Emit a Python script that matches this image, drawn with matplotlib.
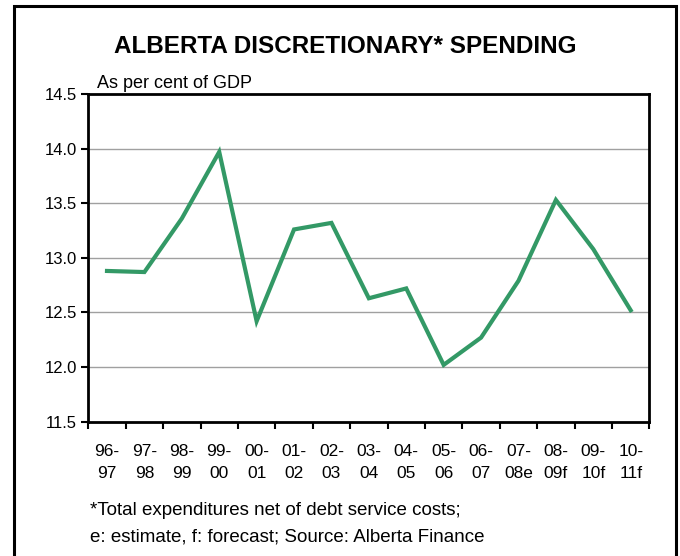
import matplotlib
matplotlib.use("Agg")
import matplotlib.pyplot as plt
from matplotlib.lines import Line2D
import numpy as np

plt.rcParams['font.family'] = ['Liberation Sans', 'DejaVu Sans']

categories = ["96-\n97", "97-\n98", "98-\n99", "99-\n00", "00-\n01", "01-\n02", "02-\n03",
              "03-\n04", "04-\n05", "05-\n06", "06-\n07", "07-\n08e", "08-\n09f", "09-\n10f", "10-\n11f"]
values = [12.88, 12.87, 13.36, 13.97, 12.42, 13.26, 13.32, 12.63, 12.72, 12.02,
          12.27, 12.79, 13.53, 13.08, 12.52]
yticks = [11.5, 12.0, 12.5, 13.0, 13.5, 14.0, 14.5]

W, H = 680, 556
fig = plt.figure(figsize=(W / 100, H / 100), dpi=100)

# outer border (top, left, right)
lx, rx, ty = 13.5 / W, 676 / W, 1 - 6 / H
fig.add_artist(Line2D([lx, lx, rx, rx], [0, ty, ty, 0], transform=fig.transFigure,
                      color='black', lw=2.2, solid_joinstyle='miter'))

ax = fig.add_axes([88.3 / W, 1 - 421.7 / H, (649.4 - 88.3) / W, (421.7 - 94) / H])
x = np.arange(len(values))
ax.plot(x, values, color='#339966', lw=3.0, solid_joinstyle='miter', zorder=3)
ax.set_xlim(-0.5, len(values) - 0.5)
ax.set_ylim(11.5, 14.5)

ax.set_yticks(yticks)
ax.set_yticklabels([f"{v:.1f}" for v in yticks], fontsize=12)
for v in yticks[1:-1]:
    ax.axhline(v, color='#a0a0a0', lw=1, zorder=1)

ax.set_xticks(x)
ax.set_xticklabels(categories, fontsize=12.5, linespacing=1.55)
ax.tick_params(axis='x', which='major', length=0, pad=16)
ax.set_xticks(np.arange(-0.5, len(values)), minor=True)
ax.tick_params(axis='x', which='minor', length=5, width=1.5, direction='out')
ax.tick_params(axis='y', length=5, width=1.5, direction='out', pad=3)

for s in ax.spines.values():
    s.set_linewidth(2)
    s.set_color('black')

fig.text(345 / W, 1 - 53 / H, "ALBERTA DISCRETIONARY* SPENDING", ha='center', va='baseline',
         fontsize=17.5, fontweight='bold')
fig.text(97 / W, 1 - 88 / H, "As per cent of GDP", ha='left', va='baseline', fontsize=13)
fig.text(90 / W, 1 - 515 / H, "*Total expenditures net of debt service costs;", ha='left',
         va='baseline', fontsize=13.5)
fig.text(90 / W, 1 - 541.5 / H, "e: estimate, f: forecast; Source: Alberta Finance", ha='left',
         va='baseline', fontsize=13.5)

fig.savefig("out.png", dpi=100)
